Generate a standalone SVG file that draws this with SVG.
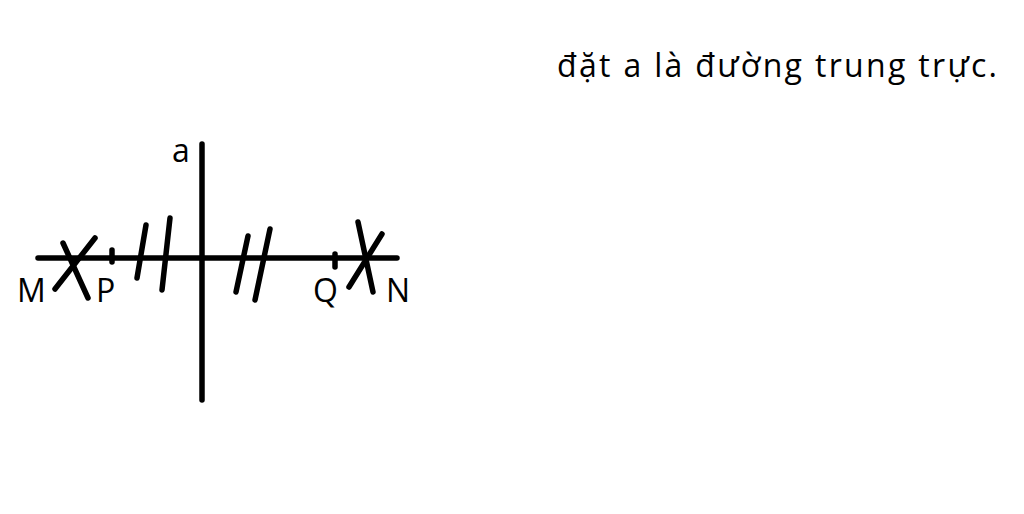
<svg xmlns="http://www.w3.org/2000/svg" width="1024" height="514" viewBox="0 0 1024 514">
<style>
.ln{stroke:#000;stroke-width:5.5;stroke-linecap:round;fill:none}
.lb{font-family:"Open Sans","Liberation Sans",sans-serif;font-size:32px;fill:#000}
</style>
<rect width="1024" height="514" fill="#fff"/>
<g id="connectors">
<line class="ln" x1="38" y1="258" x2="397" y2="258"/>
<line class="ln" x1="202" y1="144" x2="202" y2="400"/>
</g>
<g id="marks">
<line class="ln" x1="63" y1="243" x2="88" y2="298"/>
<line class="ln" x1="95" y1="238" x2="55" y2="289"/>
<line class="ln" x1="112" y1="250" x2="112" y2="262"/>
<line class="ln" x1="146" y1="225" x2="137" y2="278"/>
<line class="ln" x1="170" y1="218" x2="162" y2="290"/>
<line class="ln" x1="248" y1="236" x2="236" y2="292"/>
<line class="ln" x1="270" y1="229" x2="255" y2="300"/>
<line class="ln" x1="335" y1="254" x2="335" y2="267"/>
<line class="ln" x1="358" y1="222" x2="373" y2="292"/>
<line class="ln" x1="382" y1="234" x2="349" y2="287"/>
</g>
<g id="labels">
<text class="lb" x="172" y="162">a</text>
<text class="lb" x="17" y="302">M</text>
<text class="lb" x="96" y="302">P</text>
<text class="lb" x="313" y="302">Q</text>
<text class="lb" x="386" y="302">N</text>
</g>
<g id="title">
<text class="lb" x="557" y="77" font-size="33" textLength="440">đặt a là đường trung trực.</text>
</g>
</svg>
